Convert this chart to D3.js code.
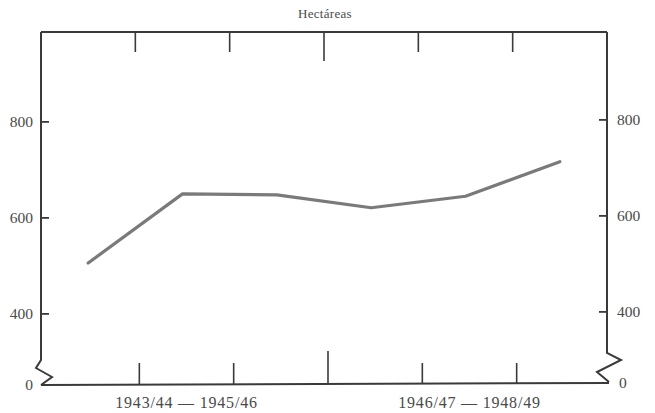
<!DOCTYPE html>
<html>
<head>
<meta charset="utf-8">
<script src="https://cdn.jsdelivr.net/npm/d3@7/dist/d3.min.js"></script>
<style>
  html, body { margin: 0; padding: 0; background: #fff; }
  svg { display: block; }
  text { font-family: "Liberation Serif", "DejaVu Serif", serif; fill: #4a4a4a; }
</style>
</head>
<body>
<svg id="chart" width="655" height="413"></svg>
<script>
// ---- data ----
const years = ["1943/44", "1944/45", "1945/46", "1946/47", "1947/48", "1948/49"];
const hectares = [506, 650, 648, 621, 645, 717];
const yTickValues = [400, 600, 800];
const periodLabels = ["1943/44 — 1945/46", "1946/47 — 1948/49"];
const unitLabel = "Hectáreas";

// ---- layout ----
const plotL = 41, plotR = 607, plotT = 32, plotB = 385;
const svg = d3.select("#chart");

const x = d3.scaleBand().domain(years).range([plotL, plotR]).padding(0);
const y = d3.scaleLinear().domain([252, 987]).range([plotB, plotT]);

const axisColor = "#3a3a3a";
const fmt = d3.format("d");

// y ticks (inward), both sides
const yTicks = svg.append("g");
yTicks.selectAll("rect.tl").data(yTickValues).join("rect").attr("class", "tl")
  .attr("x", plotL).attr("y", d => Math.round(y(d)) - 1).attr("width", 8).attr("height", 1.8)
  .attr("fill", axisColor);
yTicks.selectAll("rect.tr").data(yTickValues).join("rect").attr("class", "tr")
  .attr("x", plotR - 8).attr("y", d => Math.round(y(d)) - 3).attr("width", 8).attr("height", 1.8)
  .attr("fill", axisColor);

// top frame line
svg.append("line").attr("x1", plotL).attr("x2", plotR).attr("y1", plotT).attr("y2", plotT)
  .attr("stroke", axisColor).attr("stroke-width", 2);
// bottom frame line
svg.append("line").attr("x1", plotL).attr("x2", plotR + 2).attr("y1", plotB).attr("y2", plotB - 2)
  .attr("stroke", axisColor).attr("stroke-width", 2);

// left axis with break
const breakTopL = 360;
svg.append("path")
  .attr("d", `M${plotL},${plotT} L${plotL},${breakTopL} L${plotL - 5},${breakTopL + 8} L${plotL + 11},${breakTopL + 17} L${plotL},${plotB}`)
  .attr("fill", "none").attr("stroke", axisColor).attr("stroke-width", 2).attr("stroke-linejoin", "miter");
// right axis with break
const breakTopR = 353;
svg.append("path")
  .attr("d", `M${plotR},${plotT} L${plotR},${breakTopR} L${plotR + 14},${breakTopR + 7} L${plotR - 10},${breakTopR + 19} L${plotR + 2},${plotB - 3}`)
  .attr("fill", "none").attr("stroke", axisColor).attr("stroke-width", 2).attr("stroke-linejoin", "miter");

// tick labels
yTicks.selectAll("text.l").data(yTickValues).join("text").attr("class", "l")
  .attr("x", plotL - 8).attr("y", d => y(d)).attr("dy", "0.35em").attr("text-anchor", "end")
  .attr("font-size", 15.5).text(d => fmt(d));
yTicks.selectAll("text.r").data(yTickValues).join("text").attr("class", "r")
  .attr("x", plotR + 10).attr("y", d => y(d) - 2).attr("dy", "0.35em").attr("text-anchor", "start")
  .attr("font-size", 15.5).text(d => fmt(d));

// zero labels at the broken baseline
svg.append("text").attr("x", plotL - 8).attr("y", plotB).attr("dy", "0.35em").attr("text-anchor", "end")
  .attr("font-size", 15.5).text(fmt(0));
svg.append("text").attr("x", plotR + 12).attr("y", plotB - 2).attr("dy", "0.35em").attr("text-anchor", "start")
  .attr("font-size", 15.5).text(fmt(0));

// x ticks at band boundaries (top hanging down, bottom standing up)
const boundaries = years.slice(1).map(d => x(d));
const mid = Math.floor(boundaries.length / 2);
svg.append("g").selectAll("line").data(boundaries).join("line")
  .attr("x1", d => d).attr("x2", d => d)
  .attr("y1", plotT).attr("y2", (d, i) => plotT + (i === mid ? 29 : 20))
  .attr("stroke", axisColor).attr("stroke-width", 1.6);
svg.append("g").selectAll("line").data(boundaries).join("line")
  .attr("x1", d => d + 4).attr("x2", d => d + 4)
  .attr("y1", plotB - 1).attr("y2", (d, i) => plotB - 1 - (i === mid ? 33 : 21))
  .attr("stroke", axisColor).attr("stroke-width", 1.6);

// period labels centered under each group of three years
const groups = [years.slice(0, 3), years.slice(3, 6)];
svg.append("g").selectAll("text").data(periodLabels).join("text")
  .attr("x", (d, i) => (x(groups[i][0]) + x(groups[i][2]) + x.bandwidth()) / 2 + 4)
  .attr("y", 408)
  .attr("text-anchor", "middle")
  .attr("font-size", 16)
  .attr("letter-spacing", 0.8)
  .text(d => d);

// unit label
svg.append("text").attr("x", (plotL + plotR) / 2 + 1).attr("y", 18).attr("text-anchor", "middle")
  .attr("font-size", 13).attr("letter-spacing", 0.3).text(unitLabel);

// data line
const line = d3.line()
  .x((d, i) => x(years[i]) + x.bandwidth() / 2)
  .y(d => y(d));
svg.append("path").datum(hectares)
  .attr("d", line)
  .attr("fill", "none").attr("stroke", "#7a7a7a").attr("stroke-width", 3.2)
  .attr("stroke-linejoin", "round").attr("stroke-linecap", "round");
</script>
</body>
</html>
